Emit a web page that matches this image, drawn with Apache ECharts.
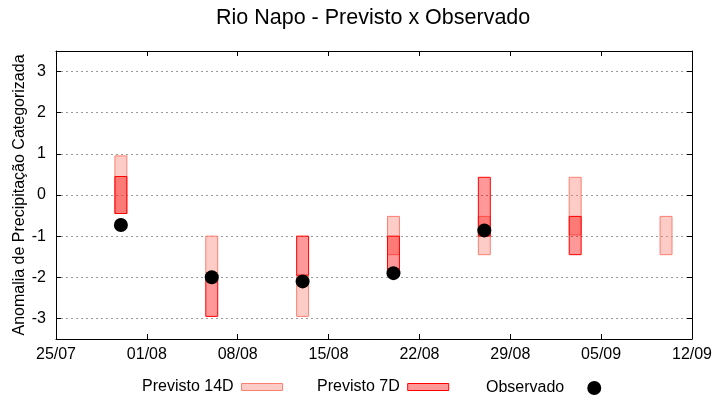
<!DOCTYPE html>
<html>
<head>
<meta charset="utf-8">
<script src="https://cdn.jsdelivr.net/npm/echarts@6/dist/echarts.min.js"></script>
<style>html,body{margin:0;padding:0;background:#fff}#c{width:720px;height:400px}</style>
</head>
<body>
<div id="c"></div>
<script>
// ---- data ----
const tickLabels = ['25/07','01/08','08/08','15/08','22/08','29/08','05/09','12/09'];
const dates = ['30/07','06/08','13/08','20/08','27/08','03/09','10/09'];
const p14Low  = [-0.45, -2.05, -2.95, -1.45, -1.45, -0.97, -1.45];
const p14High = [ 0.95, -1.00, -1.95, -0.52, -0.52,  0.43, -0.52];
const p7Low   = [-0.45, -2.95, -1.95, -1.90, -1.00, -1.45, null];
const p7High  = [ 0.45, -2.05, -1.00, -1.00,  0.43, -0.52, null];
const observed = [-0.73, -2.00, -2.10, -1.90, -0.86, null, null];

// day offsets from first tick label
function toDay(s){ const [d,m]=s.split('/').map(Number); return Date.UTC(2000,m-1,d)/86400000; }
const day0 = toDay(tickLabels[0]);
const xs = dates.map(s => toDay(s) - day0);

const half = 0.46;
function boxData(lo, hi){
  const out=[];
  xs.forEach((x,i)=>{ if(lo[i]!=null && hi[i]!=null) out.push([x, lo[i], hi[i]]); });
  return out;
}
function boxRender(fill, stroke){
  return function(params, api){
    const x=api.value(0), lo=api.value(1), hi=api.value(2);
    const a=api.coord([x-half, hi]), b=api.coord([x+half, lo]);
    return {type:'rect', shape:{x:a[0], y:a[1], width:b[0]-a[0], height:b[1]-a[1]},
      style:{fill:fill, stroke:stroke, lineWidth:1}};
  };
}
const c14fill='rgba(250,128,114,0.4)', c14stroke='#fa8072';
const c7fill='rgba(255,0,0,0.4)', c7stroke='#ff0000';
const font='Liberation Sans';

const chart = echarts.init(document.getElementById('c'));
const axisLine={show:true, onZero:false, lineStyle:{color:'#000', width:1}};
chart.setOption({
  animation:false,
  textStyle:{fontFamily:font},
  title:{text:'Rio Napo - Previsto x Observado', left:216, top:7, padding:0,
    textStyle:{fontFamily:font, fontSize:21.5, fontWeight:'normal', color:'#000'}},
  grid:{left:56, right:28, top:51, bottom:61, containLabel:false},
  legend:[
    {left:142, top:379, padding:0, align:'right', itemWidth:41, itemHeight:7, itemGap:0,
     textStyle:{fontFamily:font, fontSize:16, color:'#000', padding:[0,3,0,0]},
     data:[{name:'Previsto 14D', icon:'rect', itemStyle:{color:c14fill, borderColor:c14stroke, borderWidth:1}}]},
    {left:317, top:379, padding:0, align:'right', itemWidth:41, itemHeight:7, itemGap:0,
     textStyle:{fontFamily:font, fontSize:16, color:'#000', padding:[0,3,0,0]},
     data:[{name:'Previsto 7D', icon:'rect', itemStyle:{color:c7fill, borderColor:c7stroke, borderWidth:1}}]},
    {left:486, top:380, padding:0, align:'right', itemWidth:14, itemHeight:14, itemGap:0,
     textStyle:{fontFamily:font, fontSize:16, color:'#000', padding:[0,18,0,0]},
     data:[{name:'Observado', icon:'circle', itemStyle:{color:'#000', opacity:1}}]}
  ],
  xAxis:[
    {type:'value', min:0, max:49, interval:7, position:'bottom',
     axisLine:axisLine, axisTick:{show:true, inside:true, length:5, lineStyle:{color:'#000'}},
     axisLabel:{fontFamily:font, fontSize:16, color:'#000', margin:8,
       formatter:function(v){ return tickLabels[Math.round(v/7)] || ''; }},
     splitLine:{show:false}},
    {type:'value', min:0, max:49, interval:7, position:'top',
     axisLine:axisLine, axisTick:{show:true, inside:true, length:5, lineStyle:{color:'#000'}},
     axisLabel:{show:false}, splitLine:{show:false}}
  ],
  yAxis:[
    {type:'value', min:-3.5, max:3.5, position:'left',
     name:'Anomalia de Precipitação Categorizada', nameLocation:'middle', nameGap:28,
     nameMoveOverlap:false,
     nameTextStyle:{fontFamily:font, fontSize:16, color:'#000'},
     axisLine:axisLine, axisTick:{show:true, inside:true, length:5, lineStyle:{color:'#000'}},
     axisLabel:{fontFamily:font, fontSize:16, color:'#000', margin:10, showMinLabel:false, showMaxLabel:false,
       formatter:function(v){ return Number.isInteger(v) ? String(v) : ''; }},
     splitLine:{show:true, lineStyle:{color:'#999', type:[2,3], width:1}}},
    {type:'value', min:-3.5, max:3.5, position:'right',
     axisLine:axisLine, axisTick:{show:true, inside:true, length:5, lineStyle:{color:'#000'}},
     axisLabel:{show:false}, splitLine:{show:false}}
  ],
  series:[
    {name:'Previsto 14D', type:'custom', renderItem:boxRender(c14fill,c14stroke),
     data:boxData(p14Low,p14High), encode:{x:0, y:[1,2]}, z:2},
    {name:'Previsto 7D', type:'custom', renderItem:boxRender(c7fill,c7stroke),
     data:boxData(p7Low,p7High), encode:{x:0, y:[1,2]}, z:3},
    {name:'Observado', type:'scatter', symbol:'circle', symbolSize:14,
     itemStyle:{color:'#000', opacity:1}, z:4,
     data:xs.map((x,i)=>observed[i]==null?null:[x, observed[i]]).filter(d=>d)}
  ]
});
</script>
</body>
</html>
